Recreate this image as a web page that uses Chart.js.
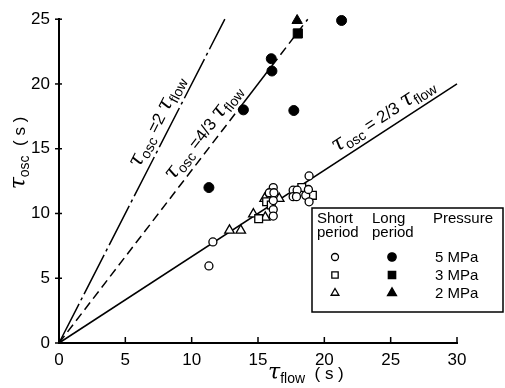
<!DOCTYPE html>
<html>
<head>
<meta charset="utf-8">
<script src="https://cdn.jsdelivr.net/npm/chart.js@4.4.0/dist/chart.umd.min.js"></script>
<style>
  html, body { margin: 0; padding: 0; background: #fff; }
</style>
</head>
<body>
<canvas id="chart" width="505" height="388"></canvas>
<script>
// tick values
const xTicks = [0, 5, 10, 15, 20, 25, 30];
const yTicks = [0, 5, 10, 15, 20, 25];

// [tau_flow, tau_osc]
const short5 = [[11.3, 5.95], [11.6, 7.8], [16.15, 12.0], [15.85, 11.6], [16.2, 11.6], [16.15, 11.0],
  [16.15, 10.3], [16.15, 9.8], [17.65, 11.8], [17.95, 11.8], [17.65, 11.3], [17.9, 11.3],
  [18.6, 11.4], [18.85, 12.9], [18.85, 10.9], [18.8, 11.85]];
const short3 = [[15.05, 9.6], [15.65, 10.9], [16.0, 10.65], [18.3, 12.0], [19.1, 11.4]];
const short2 = [[12.85, 8.7], [13.7, 8.7], [14.65, 9.95], [15.55, 9.7], [15.5, 11.15], [16.6, 11.15]];
const long5 = [[11.3, 12.0], [13.9, 18.0], [16.05, 21.0], [16.0, 21.95], [17.7, 17.95], [21.3, 24.9]];
const long3 = [[18.0, 23.9]];
const long2 = [[17.95, 24.9]];

// reference lines tau_osc = r * tau_flow
const ratios = [2, 4 / 3, 2 / 3];
const ratioText = ["=2", "=4/3", "= 2/3"];
const lineEnds = [12.5, 18.75, 30];
const line43Breaks = [0, 13.9, 16.05, 18.75];
const labelAt = [8.3, 11.7, 25.0];

const pressures = ["5 MPa", "3 MPa", "2 MPa"];

const pts = arr => arr.map(p => ({ x: p[0], y: p[1] }));

const FONT = '"Liberation Sans Narrow", "Liberation Sans", Arial, sans-serif';
const MAIN = '17px "Liberation Sans Narrow", "Liberation Sans", Arial, sans-serif';
const SUB = '14px "Liberation Sans", Arial, sans-serif';
const TAU = 'italic 22px "DejaVu Serif", serif';
const LEG = '15px "Liberation Sans", Arial, sans-serif';

function tau(name) {
  return [{ t: "τ", f: TAU }, { t: name, f: SUB, dy: 4 }];
}
function richWidth(ctx, parts) {
  let w = 0;
  parts.forEach(p => { ctx.font = p.f; w += ctx.measureText(p.t).width; });
  return w;
}
function drawRich(ctx, parts, x, y) {
  parts.forEach(p => {
    ctx.font = p.f;
    ctx.fillText(p.t, x, y + (p.dy || 0));
    x += ctx.measureText(p.t).width;
  });
}

const extras = {
  id: "extras",
  afterDraw(chart) {
    const ctx = chart.ctx;
    const xs = chart.scales.x, ys = chart.scales.y;
    const a = chart.chartArea;
    ctx.save();
    ctx.strokeStyle = "#000";
    ctx.fillStyle = "#000";
    ctx.lineWidth = 1.5;
    // tick marks
    xTicks.forEach(v => {
      const px = xs.getPixelForValue(v);
      ctx.beginPath(); ctx.moveTo(px, a.bottom); ctx.lineTo(px, a.bottom - 6); ctx.stroke();
    });
    yTicks.forEach(v => {
      const py = ys.getPixelForValue(v);
      ctx.beginPath(); ctx.moveTo(a.left - 4, py); ctx.lineTo(a.left + 3, py); ctx.stroke();
    });
    ctx.textBaseline = "alphabetic";
    ctx.textAlign = "left";
    // x title
    const xt = [...tau("flow"), { t: "  ( s )", f: MAIN }];
    drawRich(ctx, xt, a.left + 209, 379);
    // y title
    const yt = [...tau("osc"), { t: "  ( s )", f: MAIN }];
    ctx.save();
    ctx.translate(25, 0);
    ctx.rotate(-Math.PI / 2);
    const yw = richWidth(ctx, yt);
    drawRich(ctx, yt, -(153 + yw / 2), 0);
    ctx.restore();
    // line labels
    ratios.forEach((r, i) => {
      const x0 = xs.getPixelForValue(0), y0 = ys.getPixelForValue(0);
      const x1 = xs.getPixelForValue(10), y1 = ys.getPixelForValue(10 * r);
      const ang = Math.atan2(y1 - y0, x1 - x0);
      const px = xs.getPixelForValue(labelAt[i]);
      const py = ys.getPixelForValue(labelAt[i] * r);
      const parts = [...tau("osc"), { t: " " + ratioText[i] + " ", f: MAIN }, ...tau("flow")];
      ctx.save();
      ctx.translate(px, py);
      ctx.rotate(ang);
      const w = richWidth(ctx, parts);
      drawRich(ctx, parts, -w / 2, -8);
      ctx.restore();
    });
    // legend box
    const bx = 312, by = 208, bw = 191, bh = 104;
    ctx.fillStyle = "#fff";
    ctx.fillRect(bx, by, bw, bh);
    ctx.lineWidth = 1.5;
    ctx.strokeRect(bx, by, bw, bh);
    ctx.fillStyle = "#000";
    ctx.font = LEG;
    ctx.fillText("Short", 317, 223);
    ctx.fillText("period", 317, 237);
    ctx.fillText("Long", 372, 223);
    ctx.fillText("period", 372, 237);
    ctx.fillText("Pressure", 433, 223);
    const styles = ["circle", "rect", "triangle"];
    const rads = [3.5, 4.5, 4.5];
    pressures.forEach((p, i) => {
      const ry = 257 + i * 18;
      ctx.lineWidth = 1.3;
      ctx.fillStyle = "#fff";
      Chart.helpers.drawPoint(ctx, { pointStyle: styles[i], radius: rads[i], rotation: 0, borderWidth: 1.3 }, 335, ry);
      ctx.fillStyle = "#000";
      Chart.helpers.drawPoint(ctx, { pointStyle: styles[i], radius: rads[i] + 0.7, rotation: 0, borderWidth: 1 }, 392, ry);
      ctx.font = LEG;
      ctx.fillText(p, 435, ry + 5);
    });
    ctx.restore();
  }
};

function refLine(r, from, to) {
  return [{ x: from, y: r * from }, { x: to, y: r * to }];
}

const openPt = (data, style, radius) => ({
  data: pts(data), pointStyle: style, pointRadius: radius, clip: false,
  backgroundColor: "#fff", borderColor: "#000", pointBorderWidth: 1.3, showLine: false, order: 1
});
const filledPt = (data, style, radius) => ({
  data: pts(data), pointStyle: style, pointRadius: radius, clip: false,
  backgroundColor: "#000", borderColor: "#000", pointBorderWidth: 1, showLine: false, order: 1
});
const lineSet = (data, dash) => ({
  data: data, showLine: true, pointRadius: 0, borderColor: "#000", borderWidth: 1.5,
  borderDash: dash, order: 2, clip: false
});

new Chart(document.getElementById("chart"), {
  type: "scatter",
  data: {
    datasets: [
      openPt(short5, "circle", 4),
      openPt(short3, "rect", 5.5),
      openPt(short2, "triangle", 5.5),
      filledPt(long5, "circle", 5),
      filledPt(long3, "rect", 6.5),
      filledPt(long2, "triangle", 6),
      lineSet(refLine(ratios[0], 0, lineEnds[0]), [44, 4, 3, 4]),
      lineSet(refLine(ratios[1], line43Breaks[0], line43Breaks[1]), [9, 5]),
      lineSet(refLine(ratios[1], line43Breaks[1], line43Breaks[2]), []),
      lineSet(refLine(ratios[1], line43Breaks[2], line43Breaks[3]), [9, 5]),
      lineSet(refLine(ratios[2], 0, lineEnds[2]), [])
    ]
  },
  options: {
    responsive: false,
    animation: false,
    layout: { padding: { left: 0, right: 48, top: 15, bottom: 0 } },
    plugins: { legend: { display: false }, tooltip: { enabled: false } },
    scales: {
      x: {
        type: "linear", min: 0, max: 30,
        grid: { display: true, drawOnChartArea: false, drawTicks: false },
        border: { color: "#000", width: 2 },
        ticks: { stepSize: 5, padding: 7, color: "#000", font: { family: FONT, size: 17 } },
        afterFit: s => { s.height = 45; }
      },
      y: {
        min: 0, max: 25,
        grid: { display: true, drawOnChartArea: false, drawTicks: false },
        border: { color: "#000", width: 2 },
        ticks: { stepSize: 5, padding: 9, color: "#000", font: { family: FONT, size: 17 } },
        afterFit: s => { s.width = 59; }
      }
    }
  },
  plugins: [extras]
});
</script>
</body>
</html>
